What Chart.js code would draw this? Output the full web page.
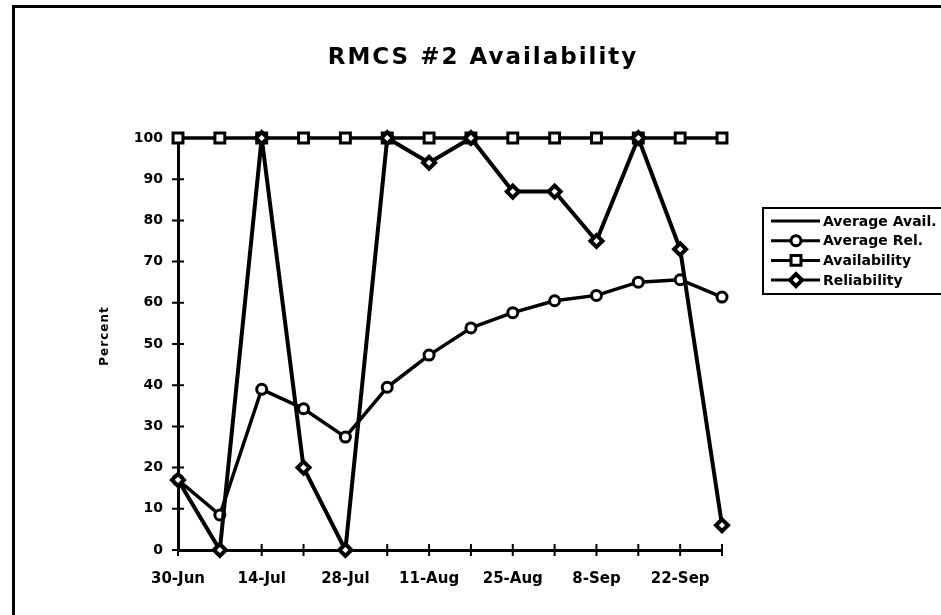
<!DOCTYPE html>
<html>
<head>
<meta charset="utf-8">
<script src="https://cdn.jsdelivr.net/npm/chart.js@4/dist/chart.umd.min.js"></script>
<style>
  html, body { margin: 0; padding: 0; background: #fff; }
  #wrap { width: 941px; height: 615px; position: relative; }
</style>
</head>
<body>
<div id="wrap"><canvas id="c" width="941" height="615"></canvas></div>
<script>
// Weekly reporting dates
const weeks = ['30-Jun', '7-Jul', '14-Jul', '21-Jul', '28-Jul', '4-Aug', '11-Aug',
               '18-Aug', '25-Aug', '1-Sep', '8-Sep', '15-Sep', '22-Sep', '29-Sep'];
// Dates that carry a printed label on the x axis
const tickLabels = ['30-Jun', '14-Jul', '28-Jul', '11-Aug', '25-Aug', '8-Sep', '22-Sep'];

// Series (percent)
const avgAvail     = [100, 100, 100, 100, 100, 100, 100, 100, 100, 100, 100, 100, 100, 100];
const avgRel       = [17, 8.5, 39, 34.3, 27.4, 39.5, 47.3, 53.9, 57.6, 60.5, 61.8, 65, 65.6, 61.4];
const availability = [100, 100, 100, 100, 100, 100, 100, 100, 100, 100, 100, 100, 100, 100];
const reliability  = [17, 0, 100, 20, 0, 100, 94, 100, 87, 87, 75, 100, 73, 6];

const yTicks = { min: 0, max: 100, step: 10 };

const INK = '#000';
const BOLD = '"DejaVu Sans", "Liberation Sans", Arial, sans-serif';

// Page frame, white background, title and axis title
const decorPlugin = {
  id: 'decor',
  beforeDraw(chart) {
    const ctx = chart.ctx;
    ctx.save();
    ctx.fillStyle = '#fff';
    ctx.fillRect(0, 0, chart.width, chart.height);
    ctx.strokeStyle = INK;
    ctx.lineWidth = 3;
    ctx.strokeRect(13.5, 6.5, chart.width + 20, chart.height + 20);
    ctx.restore();
  },
  afterDraw(chart) {
    const ctx = chart.ctx;
    const area = chart.chartArea;
    ctx.save();
    ctx.fillStyle = INK;
    ctx.textAlign = 'center';
    ctx.textBaseline = 'middle';
    ctx.letterSpacing = '2px';
    ctx.font = 'bold 23px ' + BOLD;
    ctx.fillText('RMCS #2 Availability', 483, 58);

    ctx.letterSpacing = '1px';
    ctx.font = 'bold 12px ' + BOLD;
    ctx.translate(105, (area.top + area.bottom) / 2 - 8);
    ctx.rotate(-Math.PI / 2);
    ctx.fillText('Percent', 0, 0);
    ctx.restore();
  }
};

// Tick marks that straddle each axis line
const crossTicksPlugin = {
  id: 'crossTicks',
  beforeDatasetsDraw(chart) {
    const ctx = chart.ctx;
    const xs = chart.scales.x, ys = chart.scales.y;
    ctx.save();
    ctx.strokeStyle = INK;
    ctx.lineWidth = 2;
    ctx.beginPath();
    ys.ticks.forEach((t, i) => {
      const py = ys.getPixelForTick(i);
      ctx.moveTo(xs.left - 6, py);
      ctx.lineTo(xs.left + 6, py);
    });
    xs.ticks.forEach((t, i) => {
      const px = xs.getPixelForTick(i);
      ctx.moveTo(px, ys.bottom - 6);
      ctx.lineTo(px, ys.bottom + 6);
    });
    ctx.stroke();
    ctx.restore();
  }
};

// Boxed legend with line + marker samples
const boxLegendPlugin = {
  id: 'boxLegend',
  afterDraw(chart) {
    const ctx = chart.ctx;
    const box = { x: 763, y: 208, w: 200, h: 86 };
    const rowStart = 221, rowGap = 19.7;
    ctx.save();
    ctx.strokeStyle = INK;
    ctx.lineWidth = 2;
    ctx.strokeRect(box.x, box.y, box.w, box.h);
    chart.data.datasets.forEach((ds, i) => {
      const y = rowStart + i * rowGap;
      ctx.strokeStyle = INK;
      ctx.lineWidth = 3;
      ctx.beginPath();
      ctx.moveTo(771, y);
      ctx.lineTo(820, y);
      ctx.stroke();
      if (ds.pointRadius > 0) {
        ctx.fillStyle = ds.pointBackgroundColor;
        ctx.strokeStyle = INK;
        ctx.lineWidth = ds.pointBorderWidth;
        Chart.helpers.drawPoint(ctx, {
          pointStyle: ds.pointStyle,
          radius: ds.pointRadius,
          borderWidth: ds.pointBorderWidth,
          rotation: 0
        }, 796, y);
      }
      ctx.fillStyle = INK;
      ctx.font = 'bold 14px ' + BOLD;
      ctx.textAlign = 'left';
      ctx.textBaseline = 'middle';
      ctx.fillText(ds.label, 823, y + 1);
    });
    ctx.restore();
  }
};

const lineBase = {
  borderColor: INK,
  pointBorderColor: INK,
  borderJoinStyle: 'round',
  borderCapStyle: 'round',
  tension: 0,
  fill: false,
  clip: false
};

new Chart(document.getElementById('c'), {
  type: 'line',
  data: {
    labels: weeks,
    datasets: [
      Object.assign({}, lineBase, {
        label: 'Average Avail.', data: avgAvail,
        borderWidth: 3, pointRadius: 0, pointHoverRadius: 0, order: 4
      }),
      Object.assign({}, lineBase, {
        label: 'Average Rel.', data: avgRel,
        borderWidth: 3.5, pointStyle: 'circle', pointRadius: 5,
        pointBorderWidth: 3, pointBackgroundColor: '#fff', order: 2
      }),
      Object.assign({}, lineBase, {
        label: 'Availability', data: availability,
        borderWidth: 3, pointStyle: 'rect', pointRadius: 7,
        pointBorderWidth: 3, pointBackgroundColor: '#fff', order: 3
      }),
      Object.assign({}, lineBase, {
        label: 'Reliability', data: reliability,
        borderWidth: 4, pointStyle: 'rectRot', pointRadius: 6,
        pointBorderWidth: 4, pointBackgroundColor: '#fff', order: 1
      })
    ]
  },
  options: {
    responsive: false,
    animation: false,
    devicePixelRatio: 1,
    layout: { padding: { left: 0, right: 219, top: 138, bottom: 0 } },
    plugins: {
      legend: { display: false },
      title: { display: false },
      tooltip: { enabled: false }
    },
    scales: {
      x: {
        type: 'category',
        offset: false,
        grid: { display: false, drawTicks: false },
        border: { display: true, color: INK, width: 3 },
        afterFit(scale) { scale.height = 65; },
        ticks: {
          autoSkip: false,
          maxRotation: 0,
          minRotation: 0,
          padding: 20,
          color: INK,
          font: { family: BOLD, size: 15, weight: 'bold' },
          callback(value, index) {
            const lab = weeks[index];
            return tickLabels.includes(lab) ? lab : '';
          }
        }
      },
      y: {
        min: yTicks.min,
        max: yTicks.max,
        grid: { display: false, drawTicks: false },
        border: { display: true, color: INK, width: 3 },
        afterFit(scale) { scale.width = 178; },
        ticks: {
          stepSize: yTicks.step,
          padding: 15,
          color: INK,
          font: { family: BOLD, size: 14, weight: 'bold' }
        }
      }
    }
  },
  plugins: [decorPlugin, crossTicksPlugin, boxLegendPlugin]
});
</script>
</body>
</html>
